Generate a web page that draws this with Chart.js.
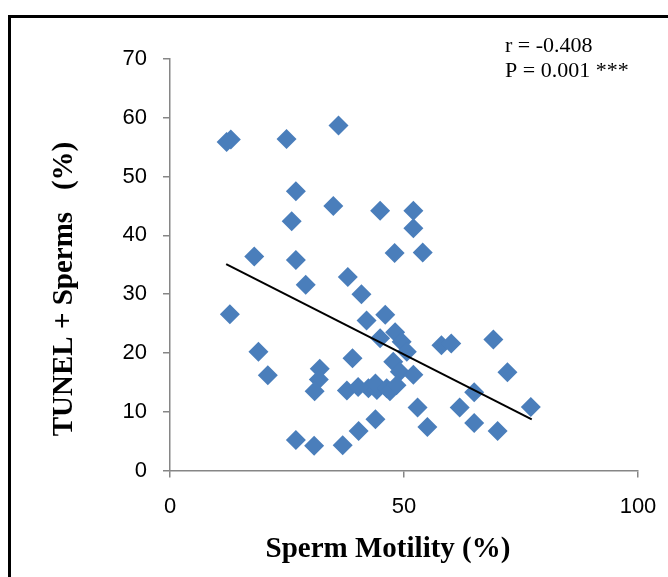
<!DOCTYPE html>
<html>
<head>
<meta charset="utf-8">
<script src="https://cdn.jsdelivr.net/npm/chart.js@4"></script>
<style>
  html, body { margin: 0; padding: 0; background: #fff; overflow: hidden; }
  #wrap { position: relative; width: 668px; height: 577px; }
  #grafico { position: absolute; left: 0; top: 0; }
  /* moldura preta (so a esquerda e o topo ficam dentro da janela) */
  #moldura {
    position: absolute; left: 8px; top: 15px; width: 700px; height: 620px;
    border-left: 3px solid #000; border-top: 3px solid #000;
    pointer-events: none;
  }
</style>
</head>
<body>
<div id="wrap">
  <canvas id="grafico" width="668" height="577"></canvas>
  <div id="moldura"></div>
</div>
<script>
(function() {
/* ---------- Dados ---------- */
const motilidade = [
  12.1, 13.0, 24.9, 36.0,
  26.9, 34.9, 44.9, 52.0, 52.0, 26.0,
  18.0, 26.9, 48.0, 54.0, 29.0, 38.0, 40.9,
  12.8, 42.0, 46.0, 44.9, 48.1, 49.5, 50.6,
  58.0, 60.1, 69.1,
  18.9, 20.9, 39.0, 47.7, 49.1, 52.0,
  32.0, 31.8, 30.9, 37.8, 40.2, 42.4, 44.2, 43.9, 46.3, 47.0, 48.4,
  72.1, 65.0, 77.1, 52.9, 61.9,
  55.0, 65.0, 70.0, 43.9, 40.3, 26.9, 30.8, 36.9
];
const tunel = [
  55.9, 56.3, 56.4, 58.7,
  47.5, 45.0, 44.2, 44.2, 41.2, 42.4,
  36.4, 35.8, 37.0, 37.1, 31.6, 32.9, 30.0,
  26.6, 25.5, 26.5, 22.5, 23.5, 21.9, 20.2,
  21.3, 21.6, 22.3,
  20.2, 16.2, 19.1, 18.5, 16.8, 16.3,
  17.3, 15.5, 13.5, 13.6, 14.2, 14.0, 13.7, 14.8, 14.0, 13.5, 14.5,
  16.7, 13.3, 10.8, 10.7, 10.7,
  7.4, 8.1, 6.7, 8.7, 6.7, 5.2, 4.2, 4.3
];
// reta de tendencia (extremos)
const tendenciaX = [12.0, 77.3];
const tendenciaY = [35.1, 8.7];

const ticksX = [0, 50, 100];
const ticksY = [0, 10, 20, 30, 40, 50, 60, 70];

const textoR = 'r = -0.408';
const textoP = 'P = 0.001 ***';
const tituloX = 'Sperm Motility (%)';
const tituloY = 'TUNEL + Sperms   (%)';

/* ---------- Estilo ---------- */
const azul = '#4a7ebb';
const cinzaEixo = '#868686';
const fonteTicks = { family: "'Liberation Sans', Arial, sans-serif", size: 22 };

/* ---------- Textos extras ---------- */
const textosPlugin = {
  id: 'textos',
  afterDraw(chart) {
    const c = chart.ctx;
    c.save();
    c.fillStyle = '#000';
    // anotacao r / P
    c.font = "22px 'Liberation Serif', 'Times New Roman', serif";
    c.textAlign = 'left';
    c.textBaseline = 'alphabetic';
    c.fillText(textoR, 505, 52);
    c.fillText(textoP, 505, 77);
    // titulo do eixo X
    c.font = "bold 29px 'Liberation Serif', 'Times New Roman', serif";
    c.textAlign = 'center';
    c.textBaseline = 'middle';
    c.fillText(tituloX, 388, 550);
    // titulo do eixo Y
    c.translate(65, 289);
    c.rotate(-Math.PI / 2);
    c.fillText(tituloY, 0, 0);
    c.restore();
  }
};

/* ---------- Grafico ---------- */
const ctx = document.getElementById('grafico').getContext('2d');
new Chart(ctx, {
  type: 'scatter',
  data: {
    datasets: [
      {
        type: 'line',
        data: tendenciaX.map((x, i) => ({ x, y: tendenciaY[i] })),
        borderColor: '#000',
        borderWidth: 2,
        pointRadius: 0,
        fill: false,
        order: 0
      },
      {
        data: motilidade.map((x, i) => ({ x, y: tunel[i] })),
        backgroundColor: azul,
        borderColor: azul,
        borderWidth: 0,
        pointStyle: 'rectRot',
        pointRadius: 10,
        order: 1
      }
    ]
  },
  options: {
    responsive: false,
    devicePixelRatio: 1,
    animation: false,
    layout: { padding: { top: 59, right: 30, left: 0, bottom: 0 } },
    plugins: { legend: { display: false }, tooltip: { enabled: false }, title: { display: false } },
    scales: {
      x: {
        type: 'linear',
        min: 0, max: 100,
        afterBuildTicks: s => { s.ticks = ticksX.map(v => ({ value: v })); },
        afterFit: s => {
          s.height = 577 - 470.5;
          // o espaco lateral ja vem do layout.padding
          s.paddingLeft = 0;
          s.paddingRight = 0;
        },
        ticks: { color: '#000', font: fonteTicks, padding: 16, maxRotation: 0 },
        grid: { drawOnChartArea: false, drawTicks: true, tickLength: 7, color: cinzaEixo, lineWidth: 1.5 },
        border: { color: cinzaEixo, width: 1.5 }
      },
      y: {
        type: 'linear',
        min: 0, max: 70,
        afterBuildTicks: s => { s.ticks = ticksY.map(v => ({ value: v })); },
        afterFit: s => { s.width = 170; },
        ticks: { color: '#000', font: fonteTicks, padding: 16 },
        grid: { drawOnChartArea: false, drawTicks: true, tickLength: 7, color: cinzaEixo, lineWidth: 1.5 },
        border: { color: cinzaEixo, width: 1.5 }
      }
    }
  },
  plugins: [textosPlugin]
});
})();
</script>
</body>
</html>
